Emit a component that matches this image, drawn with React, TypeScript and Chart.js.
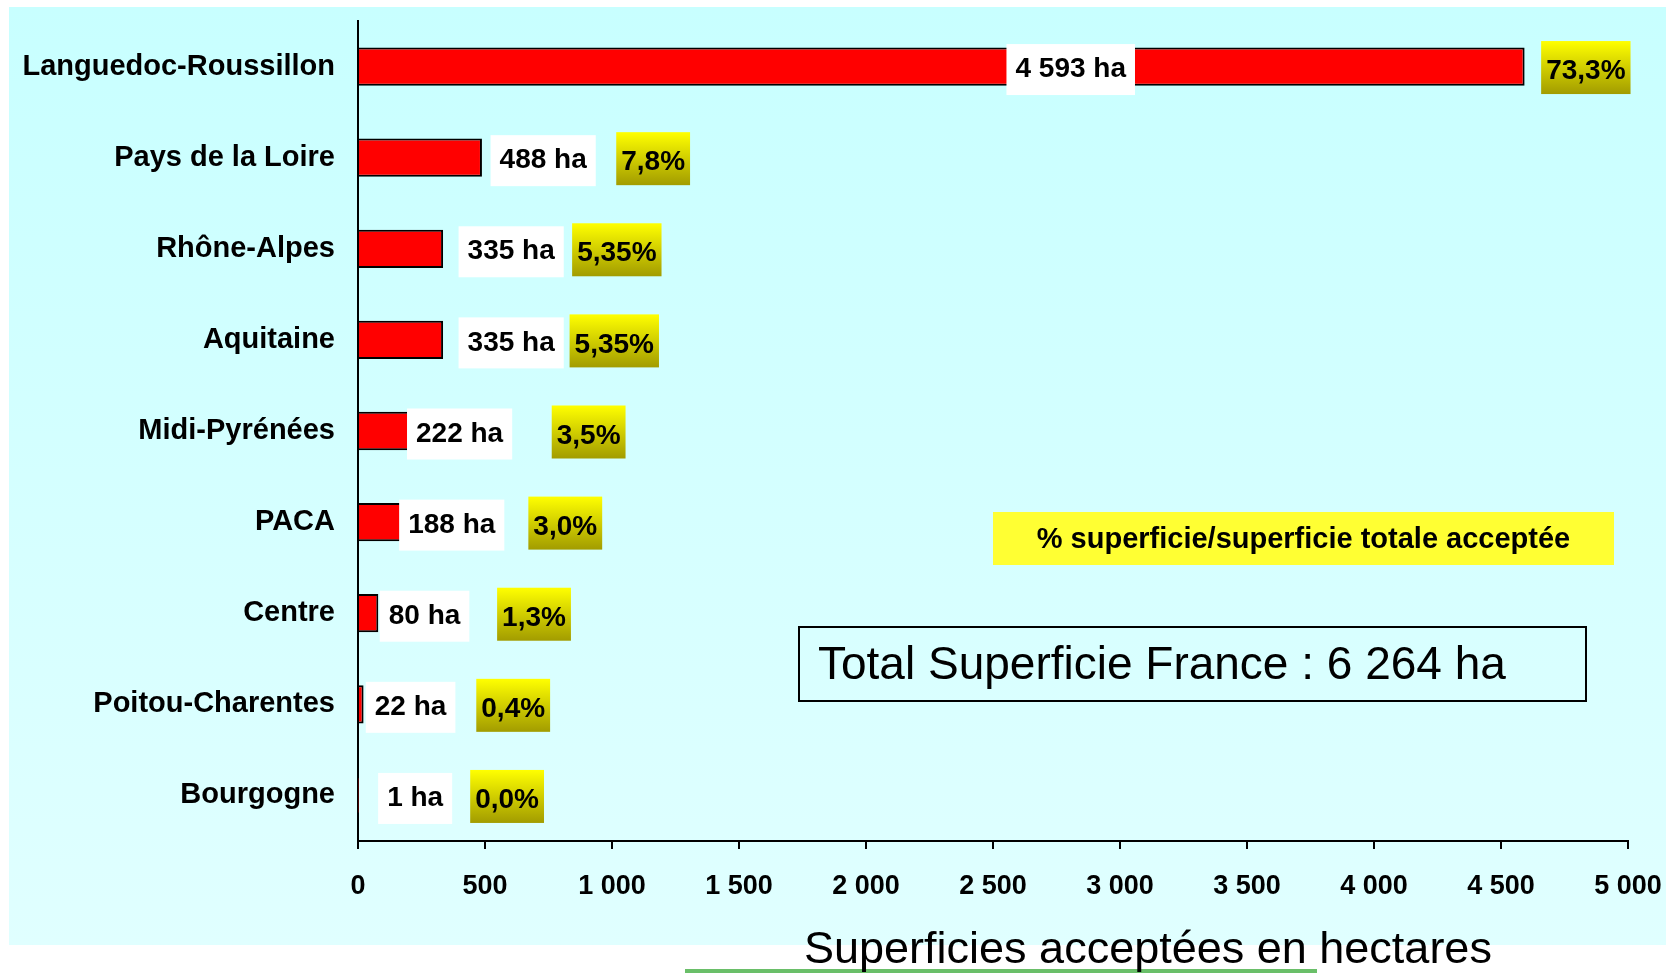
import React, { useEffect, useRef } from "react";
import { Chart, registerables } from "chart.js";

Chart.register(...registerables);

// ---- data ----
const regions = [
  "Languedoc-Roussillon",
  "Pays de la Loire",
  "Rhône-Alpes",
  "Aquitaine",
  "Midi-Pyrénées",
  "PACA",
  "Centre",
  "Poitou-Charentes",
  "Bourgogne",
];
const hectares = [4593, 488, 335, 335, 222, 188, 80, 22, 1];
const shareLabels = ["73,3%", "7,8%", "5,35%", "5,35%", "3,5%", "3,0%", "1,3%", "0,4%", "0,0%"];
const xTickValues = [0, 500, 1000, 1500, 2000, 2500, 3000, 3500, 4000, 4500, 5000];
// annotation anchors, in hectares along the x axis
const valueLabelAt = [2806, 729, 603, 603, 400, 369, 262, 207, 225];
const shareLabelAt = [4834, 1162, 1019, 1009, 908, 816, 693, 611, 587];

const axisTitle = "Superficies acceptées en hectares";
const legendText = "% superficie/superficie totale acceptée";
const totalPrefix = "Total Superficie France : ";

const FONT = '"Liberation Sans", Arial, Helvetica, sans-serif';
const W = 1666;
const H = 973;

const fmt = (n: number) => String(n).replace(/\B(?=(\d{3})+(?!\d))/g, " ");

const panelPlugin = {
  id: "panel",
  beforeDraw(chart: any) {
    const ctx = chart.ctx as CanvasRenderingContext2D;
    ctx.save();
    ctx.fillStyle = "#ffffff";
    ctx.fillRect(0, 0, W, H);
    const g = ctx.createLinearGradient(0, 7, 0, 945);
    g.addColorStop(0, "#C8FFFF");
    g.addColorStop(1, "#E0FFFF");
    ctx.fillStyle = g;
    ctx.fillRect(9, 7, W - 9, 938);
    ctx.restore();
  },
};

const labelsPlugin = {
  id: "labels",
  afterDatasetsDraw(chart: any) {
    const ctx = chart.ctx as CanvasRenderingContext2D;
    const x = chart.scales.x;
    const y = chart.scales.y;
    ctx.save();
    ctx.font = `bold 28px ${FONT}`;
    ctx.textAlign = "center";
    ctx.textBaseline = "middle";
    hectares.forEach((v, i) => {
      const cy = y.getPixelForValue(i);
      // value box
      const t = fmt(v) + " ha";
      const tw = ctx.measureText(t).width + 18;
      const th = 51;
      const cx = x.getPixelForValue(valueLabelAt[i]);
      ctx.fillStyle = "#ffffff";
      ctx.fillRect(cx - tw / 2, cy + 3 - th / 2, tw, th);
      ctx.fillStyle = "#000000";
      ctx.fillText(t, cx, cy + 3);
      // share box
      const s = shareLabels[i];
      const sw = ctx.measureText(s).width + 10;
      const sh = 53;
      const sx = x.getPixelForValue(shareLabelAt[i]);
      const top = cy + 1 - sh / 2;
      const g = ctx.createLinearGradient(0, top, 0, top + sh);
      g.addColorStop(0, "#FFFF00");
      g.addColorStop(1, "#A29C00");
      ctx.fillStyle = g;
      ctx.fillRect(sx - sw / 2, top, sw, sh);
      ctx.fillStyle = "#000000";
      ctx.fillText(s, sx, cy + 5);
    });
    ctx.restore();
  },
  afterDraw(chart: any) {
    const ctx = chart.ctx as CanvasRenderingContext2D;
    ctx.save();
    // legend box
    ctx.fillStyle = "#FFFF33";
    ctx.fillRect(993, 512, 621, 53);
    ctx.fillStyle = "#000";
    ctx.font = `bold 29px ${FONT}`;
    ctx.textAlign = "center";
    ctx.textBaseline = "middle";
    ctx.fillText(legendText, 1303.5, 540);
    // total box
    const total = hectares.reduce((a, b) => a + b, 0);
    ctx.strokeStyle = "#000";
    ctx.lineWidth = 2;
    ctx.strokeRect(799, 627, 787, 74);
    ctx.font = `46px ${FONT}`;
    ctx.textAlign = "left";
    ctx.fillText(totalPrefix + fmt(total) + " ha", 818, 666);
    // bottom title
    ctx.fillStyle = "#6ABF69";
    ctx.fillRect(685, 969, 632, 4);
    ctx.fillStyle = "#000";
    ctx.font = `45px ${FONT}`;
    ctx.textBaseline = "alphabetic";
    ctx.fillText(axisTitle, 804, 963);
    ctx.restore();
  },
};

export default function App() {
  const ref = useRef<HTMLCanvasElement | null>(null);
  useEffect(() => {
    if (!ref.current) return;
    const chart = new Chart(ref.current, {
      type: "bar",
      data: {
        labels: regions,
        datasets: [
          {
            data: hectares,
            backgroundColor: "#FF0000",
            borderColor: "#000000",
            borderWidth: 2,
            barPercentage: 0.42,
            categoryPercentage: 1,
          },
        ],
      },
      options: {
        animation: false,
        responsive: false,
        maintainAspectRatio: false,
        devicePixelRatio: 1,
        indexAxis: "y",
        layout: { padding: { top: 21, right: 38, left: 0, bottom: 0 } },
        plugins: { legend: { display: false }, tooltip: { enabled: false } },
        scales: {
          x: {
            type: "linear",
            min: 0,
            max: 5000,
            position: "bottom",
            afterBuildTicks: (s: any) => {
              s.ticks = xTickValues.map((v) => ({ value: v }));
            },
            ticks: {
              callback: (v: any) => fmt(Number(v)),
              font: { family: FONT, size: 27, weight: "bold" },
              color: "#000",
              padding: 21,
              maxRotation: 0,
              autoSkip: false,
            },
            grid: {
              display: true,
              drawOnChartArea: false,
              drawTicks: true,
              tickLength: 8,
              color: "#000",
              lineWidth: 2,
            },
            border: { display: true, color: "#000", width: 2 },
            afterFit: (s: any) => {
              s.height = 132;
              s.paddingLeft = 0;
              s.paddingRight = 0;
            },
          },
          y: {
            ticks: {
              font: { family: FONT, size: 29, weight: "bold" },
              color: "#000",
              padding: 23,
            },
            grid: { display: true, drawOnChartArea: false, drawTicks: false },
            border: { display: true, color: "#000", width: 2 },
            afterFit: (s: any) => {
              s.width = 358;
              s.paddingTop = 0;
              s.paddingBottom = 0;
            },
          },
        },
      },
      plugins: [panelPlugin, labelsPlugin],
    } as any);
    return () => chart.destroy();
  }, []);
  return (
    <div style={{ position: "absolute", left: 0, top: 0, width: W, height: H, overflow: "hidden" }}>
      <canvas ref={ref} width={W} height={H} style={{ display: "block", width: W, height: H }} />
    </div>
  );
}
